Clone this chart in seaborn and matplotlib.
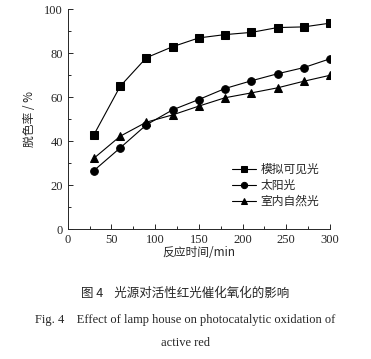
import matplotlib
matplotlib.use("Agg")
import matplotlib.pyplot as plt
import seaborn as sns
import pandas as pd
from matplotlib.ticker import MultipleLocator

sns.set_style("ticks")
plt.rcParams['font.family'] = ['Liberation Serif', 'Noto Sans CJK SC', 'DejaVu Sans']
plt.rcParams['axes.unicode_minus'] = False

time_min = [30, 60, 90, 120, 150, 180, 210, 240, 270, 300]
simulated_visible = [43, 65, 78, 83, 87, 88.5, 89.5, 91.7, 92, 93.7]
sunlight = [26.7, 37, 47.5, 54.3, 59, 64, 67.5, 70.7, 73.5, 77.5]
indoor_natural = [32.3, 42.3, 48.7, 52, 56, 59.8, 62, 64.3, 67.3, 70]
series_names = ["模拟可见光", "太阳光", "室内自然光"]

df = pd.DataFrame({
    "t": time_min * 3,
    "v": simulated_visible + sunlight + indoor_natural,
    "s": [series_names[0]] * 10 + [series_names[1]] * 10 + [series_names[2]] * 10,
})

fig = plt.figure(figsize=(3.71, 3.59), dpi=100)
ax = fig.add_axes([67.7 / 371, 1 - 229.3 / 359, (330 - 67.7) / 371, (229.3 - 9.3) / 359])

sns.lineplot(data=df, x="t", y="v", hue="s", style="s",
             palette=["black"] * 3, markers=["s", "o", "^"], dashes=False,
             markersize=5.5, linewidth=0.8, markeredgecolor="black", ax=ax)

ax.set_xlim(0, 300)
ax.set_ylim(0, 100)
ax.xaxis.set_major_locator(MultipleLocator(50))
ax.xaxis.set_minor_locator(MultipleLocator(25))
ax.yaxis.set_major_locator(MultipleLocator(20))
ax.yaxis.set_minor_locator(MultipleLocator(10))
ax.tick_params(which="both", direction="in", labelsize=9, width=0.7)
ax.tick_params(which="major", length=3.5)
ax.tick_params(which="minor", length=2)
for side in ["top", "right"]:
    ax.spines[side].set_visible(False)
for side in ["left", "bottom"]:
    ax.spines[side].set_linewidth(0.7)

ax.set_xlabel("反应时间/min", fontsize=8.5, labelpad=0,
              family=['Noto Sans CJK SC', 'DejaVu Sans'])
ax.set_ylabel("脱色率 / %", fontsize=8.5, labelpad=6,
              family=['Noto Sans CJK SC', 'DejaVu Sans'])

leg = ax.legend(loc="lower right", bbox_to_anchor=(1.0, 0.05), frameon=False,
                handlelength=2.0, handletextpad=0.4, labelspacing=0.25,
                prop={'family': ['Noto Sans CJK SC'], 'size': 8.5})
for h in leg.legend_handles:
    h.set_markersize(4.5)

fig.text(0.5, 1 - 293 / 359, "图 4    光源对活性红光催化氧化的影响", ha="center", va="center",
         fontsize=9, family=['Noto Sans CJK SC', 'DejaVu Sans'])
fig.text(0.5, 1 - 320 / 359, "Fig. 4    Effect of lamp house on photocatalytic oxidation of",
         ha="center", va="center", fontsize=9, family=['Liberation Serif'])
fig.text(0.5, 1 - 343 / 359, "active red", ha="center", va="center", fontsize=9,
         family=['Liberation Serif'])

fig.savefig("out.png", dpi=100)
